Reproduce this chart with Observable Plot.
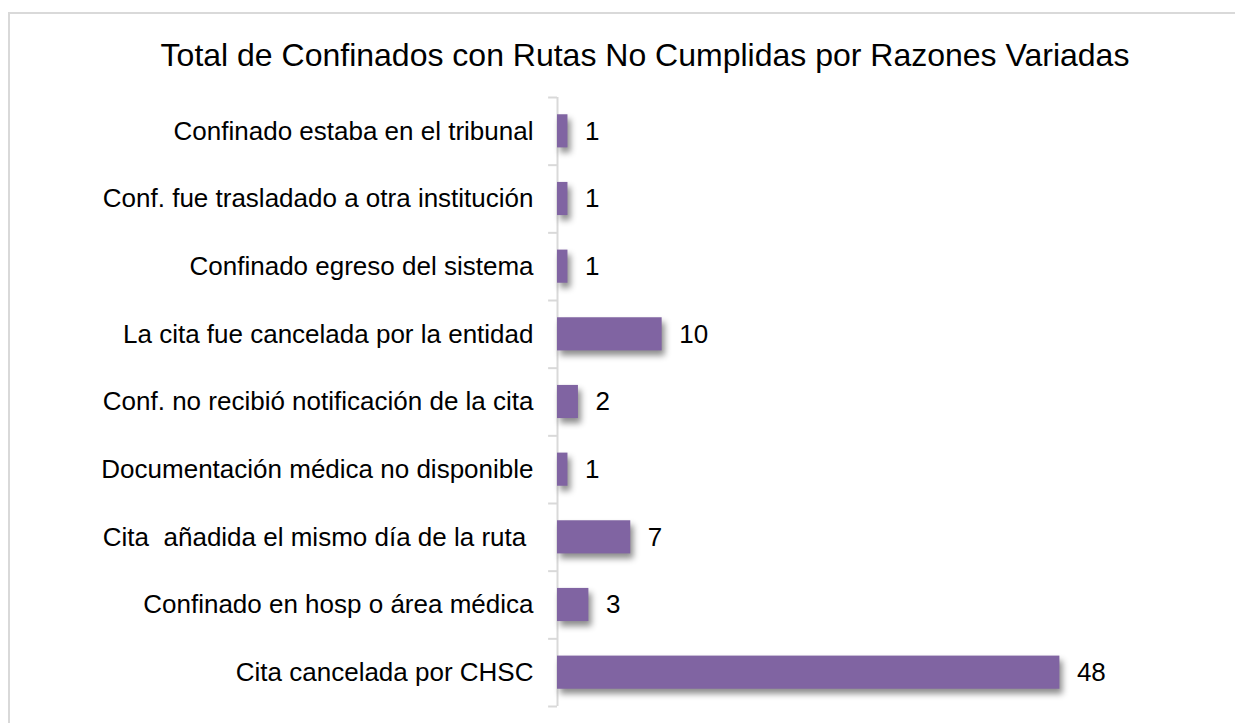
<!DOCTYPE html>
<html>
<head>
<meta charset="utf-8">
<script src="https://cdn.jsdelivr.net/npm/d3@7"></script>
<script src="https://cdn.jsdelivr.net/npm/@observablehq/plot@0.6"></script>
<style>
  html, body { margin: 0; padding: 0; background: #fff; overflow: hidden; }
  #wrap { position: relative; width: 1235px; height: 723px; overflow: hidden; }
  #frame { position: absolute; left: 8px; top: 12px; width: 1300px; height: 800px; border: 2px solid #d9d9d9; box-sizing: border-box; }
  #title { position: absolute; left: 0; top: 39px; width: 1290px; text-align: center;
           font-family: "Liberation Sans", Arial, sans-serif; font-size: 32px; line-height: 32px; color: #000; white-space: pre; }
  #chart { position: absolute; left: 0; top: 0; }
</style>
</head>
<body>
<div id="wrap">
  <div id="frame"></div>
  <div id="chart"></div>
  <div id="title">Total de Confinados con Rutas No Cumplidas por Razones Variadas</div>
</div>
<script>
const categories = [
  "Confinado estaba en el tribunal",
  "Conf. fue trasladado a otra institución",
  "Confinado egreso del sistema",
  "La cita fue cancelada por la entidad",
  "Conf. no recibió notificación de la cita",
  "Documentación médica no disponible",
  "Cita  añadida el mismo día de la ruta ",
  "Confinado en hosp o área médica",
  "Cita cancelada por CHSC"
];
const values = [1, 1, 1, 10, 2, 1, 7, 3, 48];

const data = categories.map((c, i) => ({category: c, value: values[i]}));

const H = 723, MT = 97, MB = 17;
const step = (H - MT - MB) / categories.length;
const tickLen = 0.85; // in x units

const chart = Plot.plot({
  width: 1235,
  height: H,
  marginLeft: 557,
  marginRight: 50,
  marginTop: MT,
  marginBottom: MB,
  style: {
    fontFamily: "'Liberation Sans', Arial, sans-serif",
    fontSize: "26px",
    color: "#000",
    background: "transparent",
    overflow: "visible"
  },
  x: {domain: [0, 60], axis: null},
  y: {domain: categories, paddingInner: 0.51, paddingOuter: 0.255, round: false, align: 0.5,
      label: null, tickSize: 0, tickPadding: 24},
  marks: [
    Plot.ruleX([0], {stroke: "#d9d9d9", strokeWidth: 2}),
    Plot.ruleY(categories, {y: d => d, x1: -tickLen, x2: 0, dy: -step / 2, stroke: "#d9d9d9", strokeWidth: 2}),
    Plot.ruleY([categories[categories.length - 1]], {y: d => d, x1: -tickLen, x2: 0, dy: step / 2, stroke: "#d9d9d9", strokeWidth: 2}),
    Plot.barX(data, {x: "value", y: "category", fill: "#8064A2"}),
    Plot.text(data, {x: "value", y: "category", text: d => String(d.value), textAnchor: "start", dx: 17, fill: "#000", fontSize: 26})
  ]
});

d3.select(chart).selectAll("g[aria-label='bar'] rect")
  .style("filter", "drop-shadow(3px 5px 3px rgba(0,0,0,0.45))");

document.getElementById("chart").appendChild(chart);
</script>
</body>
</html>
